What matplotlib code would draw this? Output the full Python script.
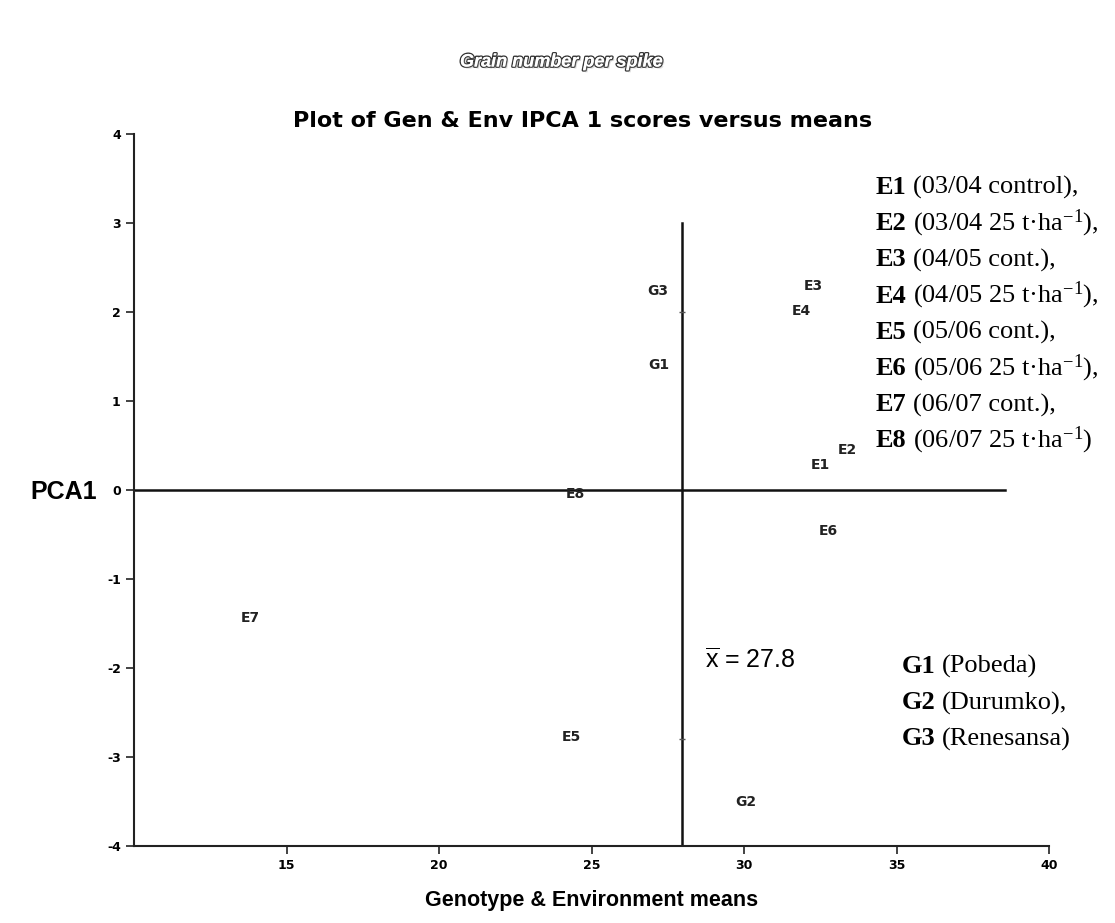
import matplotlib
matplotlib.use("Agg")
import matplotlib.pyplot as plt
import matplotlib.patheffects as pe

# genotype and environment means / IPCA1 scores
gen_labels = ['G1', 'G2', 'G3']
gen_means = [27.2, 30.07, 27.18]
gen_ipca = [1.40, -3.51, 2.24]

env_labels = ['E1', 'E2', 'E3', 'E4', 'E5', 'E6', 'E7', 'E8']
env_means = [32.49, 33.38, 32.26, 31.87, 24.33, 32.75, 13.80, 24.46]
env_ipca = [0.28, 0.45, 2.29, 2.01, -2.78, -0.46, -1.44, -0.04]

grand_mean = 27.8
mean_line_x = 27.97   # where the vertical line sits in the picture

env_desc = ['(03/04 control),', '(03/04 25 t·ha$^{-1}$),', '(04/05 cont.),',
            '(04/05 25 t·ha$^{-1}$),', '(05/06 cont.),', '(05/06 25 t·ha$^{-1}$),',
            '(06/07 cont.),', '(06/07 25 t·ha$^{-1}$)']
gen_desc = ['(Pobeda)', '(Durumko),', '(Renesansa)']

plt.rcParams['mathtext.fontset'] = 'custom'
plt.rcParams['mathtext.rm'] = 'Liberation Serif'
plt.rcParams['mathtext.sf'] = 'Liberation Sans'
plt.rcParams['mathtext.default'] = 'regular'
plt.rcParams['axes.unicode_minus'] = False

fig = plt.figure(figsize=(11.15, 9.23), dpi=100)
ax = fig.add_axes([134 / 1115, 77 / 923, 915 / 1115, 712 / 923])

ax.set_xlim(10, 40)
ax.set_ylim(-4, 4)
ax.set_xticks([15, 20, 25, 30, 35, 40])
ax.set_yticks(range(-4, 5))
for s in ['top', 'right']:
    ax.spines[s].set_visible(False)
for s in ['left', 'bottom']:
    ax.spines[s].set_linewidth(1.5)
    ax.spines[s].set_color('#222222')
ax.tick_params(length=6, width=1.2, color='#222222', labelsize=9)
for lab in ax.get_xticklabels() + ax.get_yticklabels():
    lab.set_fontweight('bold')
    lab.set_family('DejaVu Sans')

# reference lines
ax.plot([10, 38.56], [0, 0], color='#111111', lw=1.8)
ax.plot([mean_line_x, mean_line_x], [-4, 3.0], color='#111111', lw=1.8)
ax.plot([mean_line_x, mean_line_x], [2.0, -2.8], ls='none', marker='_',
        ms=5, mew=1, color='#555555')

for lab, x, y in zip(gen_labels, gen_means, gen_ipca):
    ax.text(x, y, lab, ha='center', va='center', fontsize=10,
            fontweight='bold', family='DejaVu Sans', color='#222222')
for lab, x, y in zip(env_labels, env_means, env_ipca):
    ax.text(x, y, lab, ha='center', va='center', fontsize=10,
            fontweight='bold', family='DejaVu Sans', color='#222222')

ax.text(28.72, -1.91, r'$\overline{\mathsf{x}}$ = 27.8', fontsize=18,
        family='Liberation Sans', va='center')

fig.text(583 / 1115, 1 - 121 / 923, 'Plot of Gen & Env IPCA 1 scores versus means',
         fontsize=16, fontweight='bold', family='DejaVu Sans',
         ha='center', va='center')
ax.set_xlabel('Genotype & Environment means', fontsize=15.5, fontweight='bold',
              family='Liberation Sans', labelpad=13)
fig.text(30 / 1115, 1 - 492 / 923, 'PCA1', fontsize=18, fontweight='bold',
         family='Liberation Sans', va='center', ha='left')

fig.text(561 / 1115, 1 - 62 / 923, 'Grain number per spike', fontsize=13,
         fontweight='bold', style='italic', family='Liberation Sans',
         ha='center', va='center', color='white',
         path_effects=[pe.withStroke(linewidth=2, foreground='#333333'),
                       pe.withSimplePatchShadow(offset=(1.5, -1.5), shadow_rgbFace='#999999')])

# legend-style notes (bold code + regular description)
fig.canvas.draw()
renderer = fig.canvas.get_renderer()
W = fig.bbox.width


def note(x_px, y_px, code, desc):
    t = fig.text(x_px / W, 1 - y_px / 923, code, fontsize=19, fontweight='bold',
                 family='Liberation Serif', va='baseline')
    bb = t.get_window_extent(renderer)
    fig.text((bb.x1 + 6) / W, 1 - y_px / 923, desc, fontsize=19,
             family='Liberation Serif', va='baseline')


for i, (code, desc) in enumerate(zip(env_labels, env_desc)):
    note(876, 194 + i * 36.2, code, desc)
for i, (code, desc) in enumerate(zip(gen_labels, gen_desc)):
    note(902, 673 + i * 36.2, code, desc)

fig.savefig('out.png', dpi=100)
